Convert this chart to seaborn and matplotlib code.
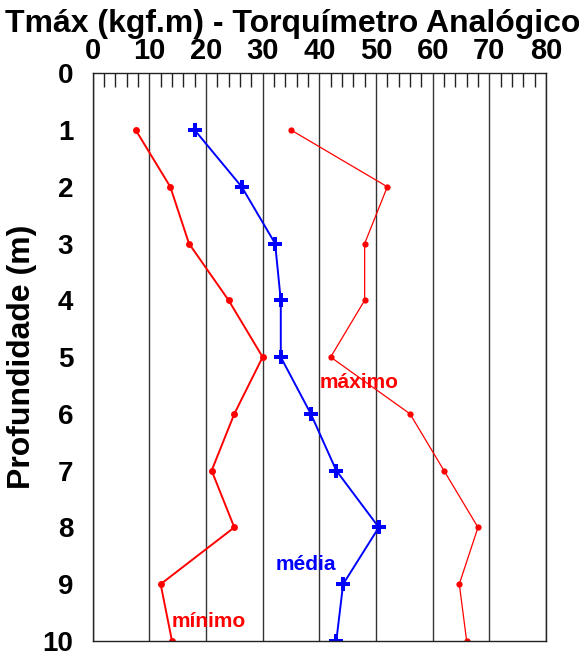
import numpy as np
import pandas as pd
import seaborn as sns
import matplotlib.pyplot as plt
from matplotlib.ticker import MultipleLocator


# dados
profundidade = [1, 2, 3, 4, 5, 6, 7, 8, 9, 10]
t_minimo = [7.6, 13.7, 17.0, 24.0, 30.0, 25.0, 21.0, 25.0, 12.0, 14.0]
t_media = [18.0, 26.3, 32.2, 33.2, 33.2, 38.5, 43.0, 50.5, 44.2, 43.0]
t_maximo = [35.0, 52.0, 48.0, 48.0, 42.0, 56.0, 62.0, 68.0, 64.7, 66.0]

x_ticks = [0, 10, 20, 30, 40, 50, 60, 70, 80]
y_ticks = [0, 1, 2, 3, 4, 5, 6, 7, 8, 9, 10]

sns.set_style("white")
plt.rcParams['font.family'] = ['Liberation Sans', 'DejaVu Sans']
plt.rcParams['text.color'] = 'black'
plt.rcParams['axes.labelcolor'] = 'black'
plt.rcParams['xtick.color'] = 'black'
plt.rcParams['ytick.color'] = 'black'

df = pd.DataFrame({
    "prof": profundidade,
    "min": t_minimo,
    "med": t_media,
    "max": t_maximo,
})

fig = plt.figure(figsize=(5.79, 6.54), dpi=100)
ax = fig.add_axes([0.160, 0.020, 0.783, 0.868])

sns.lineplot(data=df, x="min", y="prof", orient="y", ax=ax, color="red",
             linewidth=1.4, marker="o", markersize=5, markeredgewidth=0)
sns.lineplot(data=df, x="med", y="prof", orient="y", ax=ax, color="blue",
             linewidth=1.4, marker="P", markersize=10, markeredgewidth=0)
sns.lineplot(data=df, x="max", y="prof", orient="y", ax=ax, color="red",
             linewidth=0.9, marker="o", markersize=4.5, markeredgewidth=0)

ax.set_xlim(0, 80)
ax.set_ylim(10, 0)
ax.xaxis.tick_top()
ax.xaxis.set_label_position("top")
ax.set_xticks(x_ticks)
ax.set_yticks(y_ticks)
ax.xaxis.set_minor_locator(MultipleLocator(2))
ax.tick_params(axis="x", which="major", direction="in", length=0, pad=6,
               labelsize=21, labelcolor="black")
ax.tick_params(axis="x", which="minor", direction="in", length=10,
               width=1, color="#222222")
ax.tick_params(axis="y", which="major", direction="out", length=12,
               width=1, color="#222222", pad=2, labelsize=20,
               labelcolor="black")
for lab in ax.get_xticklabels() + ax.get_yticklabels():
    lab.set_fontweight("bold")

ax.grid(axis="x", color="#333333", linewidth=1)
ax.grid(axis="y", visible=False)
for s in ax.spines.values():
    s.set_color("#222222")
    s.set_linewidth(1)

ax.set_xlabel("")
ax.set_ylabel("Profundidade (m)", fontsize=23, fontweight="bold", labelpad=4,
              color="black")

fig.text(0.505, 0.963, "Tmáx (kgf.m) - Torquímetro Analógico", ha="center",
         va="center", fontsize=23, fontweight="bold", color="black")

ax.text(40.0, 5.45, "máximo", color="red", fontsize=15, fontweight="bold",
        va="center", ha="left")
ax.text(32.3, 8.66, "média", color="blue", fontsize=15, fontweight="bold",
        va="center", ha="left")
ax.text(14.0, 9.65, "mínimo", color="red", fontsize=15, fontweight="bold",
        va="center", ha="left")

fig.savefig("out.png", dpi=100)
